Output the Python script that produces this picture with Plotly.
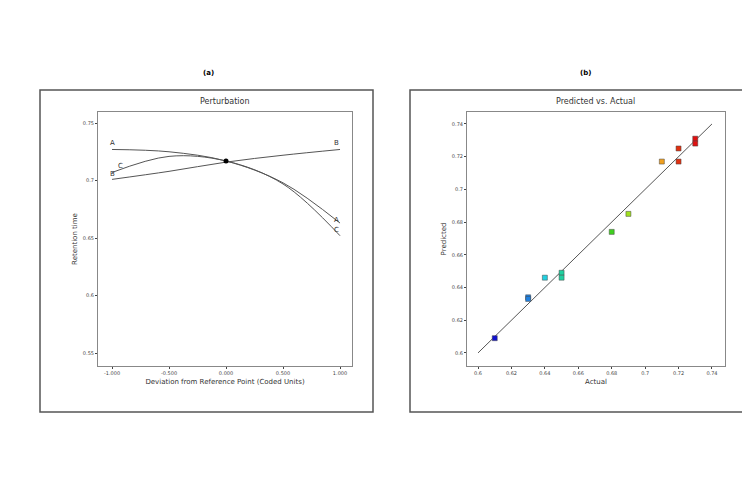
import plotly.graph_objects as go

# Perturbation data
pert_x = [-1.0, -0.5, 0.0, 0.5, 1.0]
A_y = [0.727, 0.725, 0.717, 0.698, 0.663]
B_y = [0.701, 0.708, 0.716, 0.722, 0.727]
C_y = [0.707, 0.721, 0.717, 0.697, 0.652]

# Predicted vs actual
actual = [0.61, 0.63, 0.63, 0.64, 0.65, 0.65, 0.68, 0.69, 0.71, 0.72, 0.72, 0.73, 0.73]
predicted = [0.609, 0.634, 0.633, 0.646, 0.649, 0.646, 0.674, 0.685, 0.717, 0.725, 0.717, 0.731, 0.728]
colors = ["#1010d0", "#2080e0", "#2080e0", "#20d0e0", "#20d0a0", "#20d0a0", "#40d020",
          "#a0e020", "#f0a020", "#e03010", "#e03010", "#e01010", "#e01010"]

W, H = 750, 499
OFF = 8  # page body margin
def px(x): return (x - OFF) / W
def py(y): return 1 - (y - OFF) / H

fig = go.Figure()
lc = "#555555"
for ys in (A_y, B_y, C_y):
    fig.add_trace(go.Scatter(x=pert_x, y=ys, mode="lines", line=dict(color=lc, width=1, shape="spline"),
                             xaxis="x", yaxis="y", showlegend=False))
fig.add_trace(go.Scatter(x=[0], y=[0.717], mode="markers", marker=dict(color="black", size=5),
                         xaxis="x", yaxis="y", showlegend=False))
for t, xx, yy in [("A", -1, 0.733), ("B", 0.97, 0.733), ("C", -0.93, 0.713), ("B", -1, 0.706),
                  ("A", 0.97, 0.666), ("C", 0.97, 0.657)]:
    fig.add_annotation(x=xx, y=yy, text=t, showarrow=False, xref="x", yref="y",
                       font=dict(size=7, color="#333"))

fig.add_trace(go.Scatter(x=[0.6, 0.74], y=[0.6, 0.74], mode="lines", line=dict(color="#555", width=1),
                         xaxis="x2", yaxis="y2", showlegend=False))
fig.add_trace(go.Scatter(x=actual, y=predicted, mode="markers",
                         marker=dict(symbol="square", size=5, color=colors, line=dict(color="#444", width=0.5)),
                         xaxis="x2", yaxis="y2", showlegend=False))

ax = dict(showgrid=False, zeroline=False, showline=True, linecolor="#888", mirror=True,
          ticks="outside", ticklen=2, tickfont=dict(size=5, color="#444"), title_font=dict(size=7, color="#333"),
          title_standoff=4)
fig.update_layout(
    width=W, height=H, margin=dict(l=0, r=0, t=0, b=0), plot_bgcolor="white", paper_bgcolor="white",
    font=dict(family="DejaVu Sans"),
    xaxis=dict(ax, domain=[px(98), px(352)], range=[-1.123, 1.105], anchor="y",
               tickvals=[-1, -0.5, 0, 0.5, 1], ticktext=["-1.000", "-0.500", "0.000", "0.500", "1.000"],
               title_text="Deviation from Reference Point (Coded Units)"),
    yaxis=dict(ax, domain=[py(366), py(112)], range=[0.5387, 0.7596], anchor="x",
               tickvals=[0.55, 0.6, 0.65, 0.7, 0.75], ticktext=["0.55", "0.6", "0.65", "0.7", "0.75"],
               title_text="Retention time"),
    xaxis2=dict(ax, domain=[px(467), px(725)], range=[0.5934, 0.7478], anchor="y2",
                tickvals=[0.6, 0.62, 0.64, 0.66, 0.68, 0.7, 0.72, 0.74],
                ticktext=["0.6", "0.62", "0.64", "0.66", "0.68", "0.7", "0.72", "0.74"], title_text="Actual"),
    yaxis2=dict(ax, domain=[py(366), py(112)], range=[0.592, 0.7473], anchor="x2",
                tickvals=[0.6, 0.62, 0.64, 0.66, 0.68, 0.7, 0.72, 0.74],
                ticktext=["0.6", "0.62", "0.64", "0.66", "0.68", "0.7", "0.72", "0.74"], title_text="Predicted"),
)
for x0, x1 in [(40, 373), (410, 743)]:
    fig.add_shape(type="rect", xref="paper", yref="paper", x0=px(x0), x1=px(x1), y0=py(412), y1=py(90),
                  line=dict(color="#555", width=1.5))
for txt, xx, yy, sz, col in [("Perturbation", 225, 102, 8, "#333"), ("Predicted vs. Actual", 595, 102, 8, "#333"),
                             ("<b>(a)</b>", 208, 73, 7, "#000"), ("<b>(b)</b>", 585, 73, 7, "#000")]:
    fig.add_annotation(x=px(xx), y=py(yy), text=txt, showarrow=False, xref="paper", yref="paper",
                       xanchor="center", yanchor="middle", font=dict(size=sz, color=col))
fig.write_html("out.html")
